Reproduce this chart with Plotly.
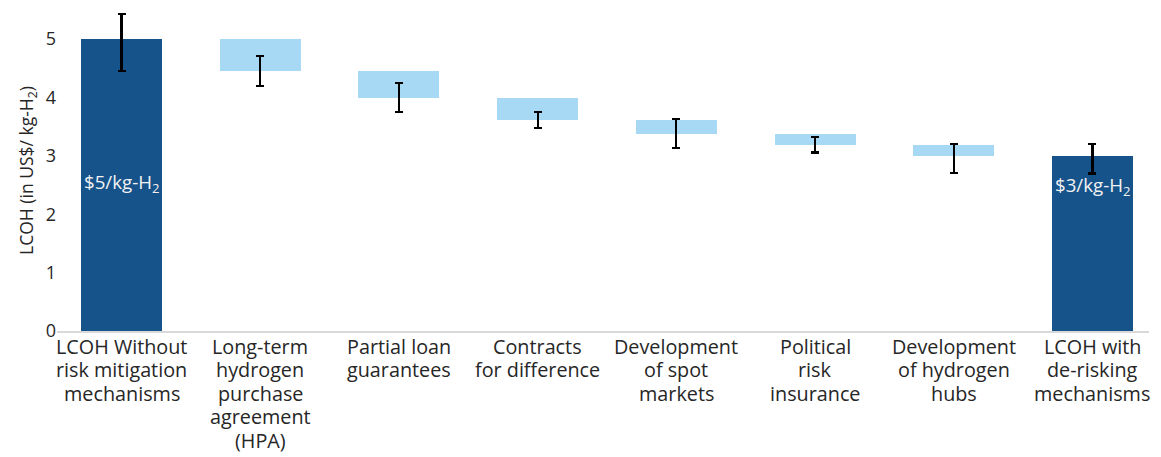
import plotly.graph_objects as go

# Waterfall of levelised cost of hydrogen (US$/kg-H2) as de-risking measures are applied
categories = [
    "LCOH Without<br>risk mitigation<br>mechanisms",
    "Long-term<br>hydrogen<br>purchase<br>agreement<br>(HPA)",
    "Partial loan<br>guarantees",
    "Contracts<br>for difference",
    "Development<br>of spot<br>markets",
    "Political<br>risk<br>insurance",
    "Development<br>of hydrogen<br>hubs",
    "LCOH with<br>de-risking<br>mechanisms",
]
# cost level reached after each step (first and last are totals)
levels = [5.0, 4.46, 4.0, 3.61, 3.38, 3.19, 3.0, 3.0]
is_total = [True, False, False, False, False, False, False, True]
# uncertainty range around each level
err_plus = [0.43, 0.25, 0.25, 0.14, 0.25, 0.14, 0.21, 0.21]
err_minus = [0.54, 0.26, 0.25, 0.125, 0.245, 0.13, 0.29, 0.30]

DARK = "#16538a"
LIGHT = "#a7d8f4"
TEXT = "#262626"
FONT = "Open Sans, Noto Sans, sans-serif"

bases, heights, colors = [], [], []
prev = 0.0
for lvl, tot in zip(levels, is_total):
    if tot:
        bases.append(0.0)
        heights.append(lvl)
        colors.append(DARK)
    else:
        bases.append(prev)
        heights.append(lvl - prev)
        colors.append(LIGHT)
    prev = lvl

fig = go.Figure(
    go.Bar(
        x=categories,
        y=heights,
        base=bases,
        width=0.584,
        marker=dict(color=colors, line=dict(width=0)),
        error_y=dict(
            type="data",
            symmetric=False,
            array=err_plus,
            arrayminus=err_minus,
            color="#000000",
            thickness=2.2,
            width=4,
        ),
        hoverinfo="skip",
    )
)

# value labels on the two total bars
first, last = 0, len(levels) - 1
fig.add_annotation(
    x=categories[first], y=levels[first] / 2,
    text=f"${levels[first]:g}/kg-H<sub>2</sub>",
    showarrow=False, yanchor="middle", yshift=2,
    font=dict(family=FONT, size=18.7, color="#f2f2f2"),
)
fig.add_annotation(
    x=categories[last], y=levels[last],
    text=f"${levels[last]:g}/kg-H<sub>2</sub>",
    showarrow=False, yanchor="top", yshift=-14,
    font=dict(family=FONT, size=18.7, color="#f2f2f2"),
)

# category labels, one line at a time for tighter line spacing
LINE_GAP = 23.4
for cat in categories:
    for i, line in enumerate(cat.split("<br>")):
        fig.add_annotation(
            x=cat, y=0, yref="paper",
            text=line, showarrow=False,
            xanchor="center", yanchor="middle",
            yshift=-(15.5 + LINE_GAP * i),
            font=dict(family=FONT, size=19.8, color=TEXT),
        )

fig.update_layout(
    width=1161,
    height=457,
    margin=dict(l=57, r=12, t=10, b=126),
    paper_bgcolor="white",
    plot_bgcolor="white",
    showlegend=False,
    font=dict(family=FONT, size=18, color=TEXT),
    bargap=0,
)
fig.update_xaxes(
    type="category",
    range=[-0.465, 7.408],
    automargin=False,
    showline=True,
    linecolor="#d9d9d9",
    linewidth=2,
    ticks="",
    showgrid=False,
    showticklabels=False,
)
fig.update_yaxes(
    range=[0, 5.5],
    tickvals=[0, 1, 2, 3, 4, 5],
    automargin=False,
    showgrid=False,
    zeroline=False,
    showline=False,
    ticks="",
    tickfont=dict(family=FONT, size=18, color=TEXT),
    title=dict(
        text="LCOH (in US$/ kg-H<sub>2</sub>)",
        font=dict(family=FONT, size=17.5, color=TEXT),
        standoff=7,
    ),
)

fig.write_html("out.html")
